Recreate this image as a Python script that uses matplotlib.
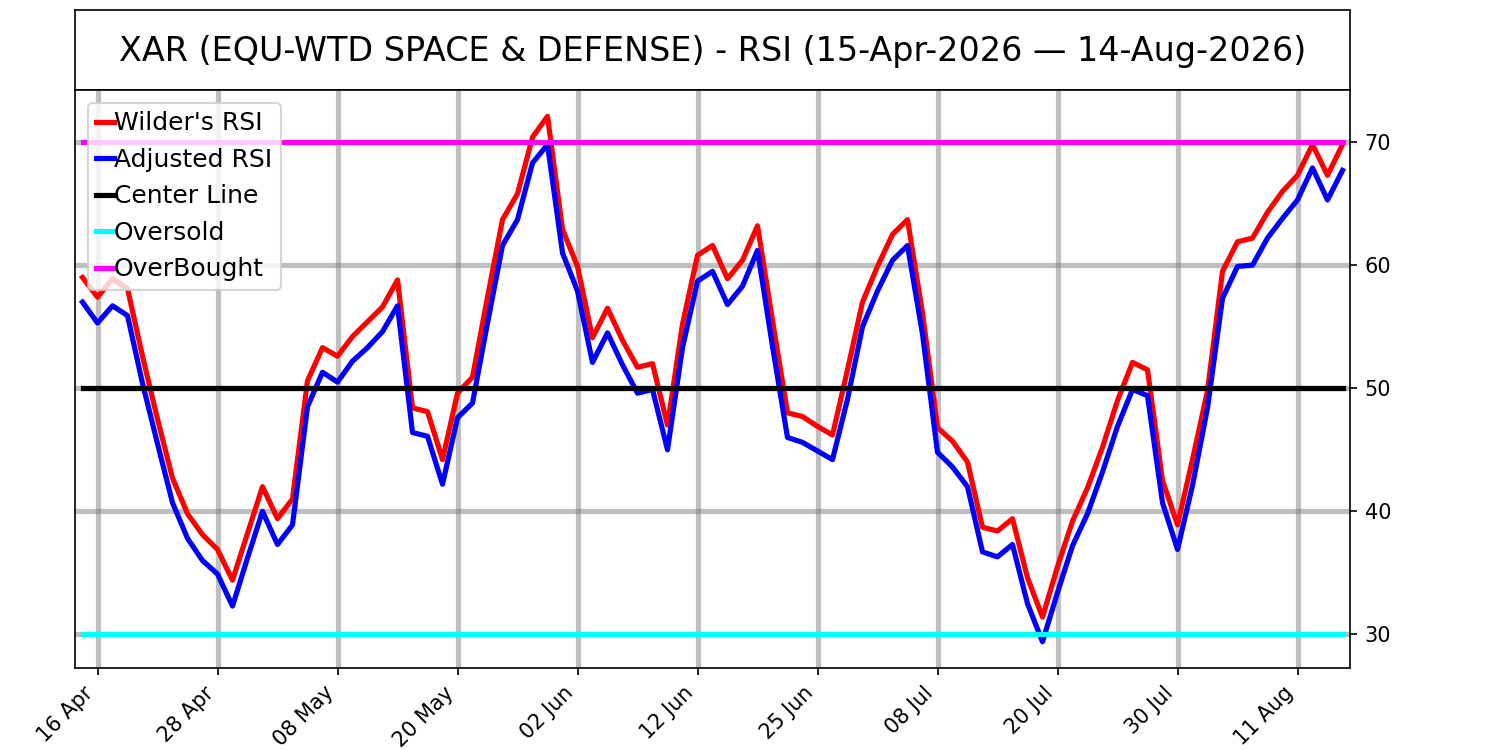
import matplotlib
matplotlib.use("Agg")
import matplotlib.pyplot as plt
import pandas as pd
import numpy as np

# ---- data ----
start_date = "2026-04-15"
end_date = "2026-08-14"
holidays = ["2026-05-25", "2026-06-19", "2026-07-03"]

wilders_rsi = [
    59.0, 57.4, 58.9, 58.1, 52.6, 47.5, 42.7, 39.8, 38.1, 36.9,
    34.4, 38.2, 42.0, 39.4, 41.0, 50.6, 53.3, 52.6, 54.2, 55.4,
    56.6, 58.8, 48.4, 48.1, 44.2, 49.6, 50.9, 57.4, 63.7, 65.8,
    70.4, 72.1, 62.9, 59.9, 54.1, 56.5, 53.9, 51.7, 52.0, 47.0,
    55.2, 60.8, 61.6, 58.9, 60.4, 63.2, 55.5, 48.0, 47.7, 46.9,
    46.2, 51.5, 57.0, 59.9, 62.5, 63.7, 56.1, 46.8, 45.7, 44.0,
    38.7, 38.4, 39.4, 34.6, 31.4, 35.5, 39.2, 41.9, 45.2, 49.0,
    52.1, 51.5, 42.5, 38.9, 44.2, 49.8, 59.5, 61.9, 62.2, 64.3,
    66.0, 67.3, 69.8, 67.3, 69.8,
]
adjusted_rsi = [
    57.0, 55.3, 56.7, 55.9, 50.4, 45.5, 40.7, 37.8, 36.0, 34.9,
    32.3, 36.2, 40.0, 37.3, 38.9, 48.5, 51.3, 50.5, 52.2, 53.3,
    54.6, 56.7, 46.4, 46.1, 42.2, 47.6, 48.8, 55.3, 61.6, 63.7,
    68.3, 69.8, 61.0, 57.9, 52.1, 54.5, 51.9, 49.6, 49.9, 45.0,
    53.3, 58.7, 59.5, 56.8, 58.3, 61.2, 53.4, 46.0, 45.6, 44.9,
    44.2, 49.1, 55.0, 57.9, 60.4, 61.6, 54.4, 44.8, 43.6, 42.0,
    36.7, 36.3, 37.3, 32.5, 29.4, 33.4, 37.2, 39.8, 43.2, 46.9,
    49.9, 49.4, 40.7, 36.9, 42.1, 48.4, 57.3, 59.9, 60.0, 62.2,
    63.8, 65.3, 67.9, 65.3, 67.7,
]
center_level = 50
oversold_level = 30
overbought_level = 70

title_text = "XAR (EQU-WTD SPACE & DEFENSE) - RSI (15-Apr-2026 \u2014 14-Aug-2026)"

# ---- build ----
dates = pd.bdate_range(start_date, end_date)
dates = dates[~dates.isin(pd.to_datetime(holidays))]
n = len(wilders_rsi)
dates = dates[:n]
x = np.arange(n)

tick_idx = x[1::8]
tick_labels = [d.strftime("%d %b") for d in dates[1::8]]

fig = plt.figure(figsize=(10, 5), dpi=150)
ax_t = fig.add_axes([0.05, 0.88, 0.85, 0.1067])
ax_t.set_xticks([])
ax_t.set_yticks([])
ax_t.text(0.5, 0.48, title_text, ha="center", va="center",
          fontsize=16, transform=ax_t.transAxes)

ax = fig.add_axes([0.05, 0.1093, 0.85, 0.7707])
ax.set_axisbelow(True)
ax.grid(True, color="gray", alpha=0.5, linewidth=2.5)

lw = 2.5
ax.plot(x, wilders_rsi, color="red", lw=lw, label="Wilder's RSI")
ax.plot(x, adjusted_rsi, color="blue", lw=lw, label="Adjusted RSI")
ax.plot(x, [center_level] * n, color="black", lw=lw, label="Center Line")
ax.plot(x, [oversold_level] * n, color="cyan", lw=lw, label="Oversold")
ax.plot(x, [overbought_level] * n, color="magenta", lw=lw, label="OverBought")

ax.set_xlim(-0.5, n - 0.5)
ax.set_xticks(tick_idx)
ax.set_xticklabels(tick_labels, rotation=45, ha="right")
ax.set_yticks([30, 40, 50, 60, 70])
ax.yaxis.tick_right()

ax.legend(loc="upper left", fontsize=12, handlelength=0.7,
          handletextpad=0.0, borderpad=0.35)

fig.savefig("out.png", dpi=150)
